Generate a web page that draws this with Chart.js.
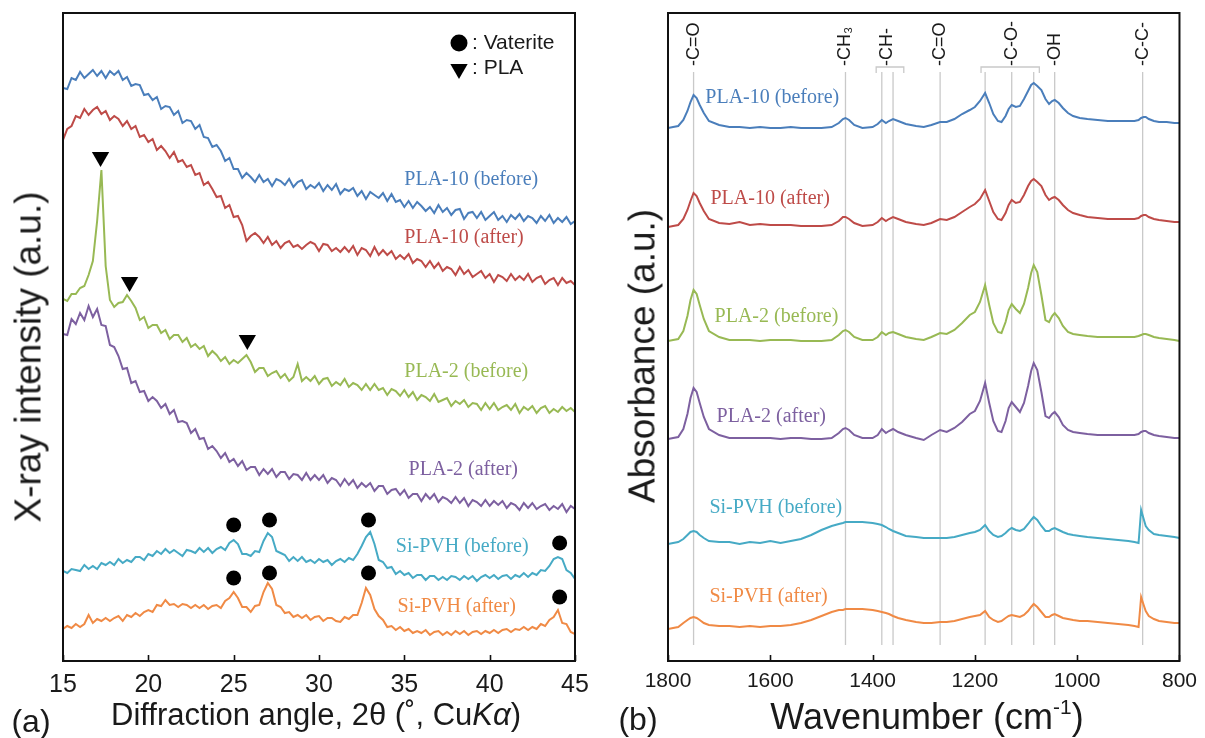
<!DOCTYPE html>
<html lang="en">
<head>
<meta charset="utf-8">
<title>XRD and FTIR of PLA / Si-PVH</title>
<script src="https://cdn.jsdelivr.net/npm/chart.js@4.4.1/dist/chart.umd.min.js"></script>
<style>
  html, body { margin: 0; padding: 0; background: #ffffff; }
  body { position: relative; width: 1205px; height: 738px; overflow: hidden;
         font-family: "Liberation Sans", Arial, sans-serif; color: #1a1a1a; }
  canvas { position: absolute; top: 0; }
  #xrd { left: 0; }
  #ftir { left: 600px; }
  .t { position: absolute; white-space: nowrap; transform: translate(-50%, -50%); line-height: 1; }
  .rot { transform: translate(-50%, -50%) rotate(-90deg); }
  sup { font-size: 58%; vertical-align: 0.75em; }
</style>
</head>
<body>
<canvas id="xrd" width="600" height="738"></canvas>
<canvas id="ftir" width="605" height="738"></canvas>

<div class="t rot" style="left:28px; top:357px; font-size:37px;">X-ray intensity (a.u.)</div>
<div class="t" style="left:316px; top:714px; font-size:31px;">Diffraction angle, 2θ (˚, Cu<i>Kα</i>)</div>
<div class="t" style="left:31px; top:721px; font-size:32px;">(a)</div>

<div class="t rot" style="left:642px; top:356px; font-size:37px;">Absorbance (a.u.)</div>
<div class="t" style="left:927px; top:716px; font-size:36px;">Wavenumber (cm<sup>-1</sup>)</div>
<div class="t" style="left:638px; top:719px; font-size:32px;">(b)</div>

<script>
// ---- (a) XRD: 2θ grid (deg) and intensity of each trace (a.u., stacked offsets as drawn)
const xrdAngles = [
  15,15.25,15.5,15.75,16,16.25,16.5,16.75,17,17.25,17.5,17.75,18,18.25,18.5,18.75,19,19.25,19.5,19.75,
  20,20.25,20.5,20.75,21,21.25,21.5,21.75,22,22.25,22.5,22.75,23,23.25,23.5,23.75,24,24.25,24.5,24.75,
  25,25.25,25.5,25.75,26,26.25,26.5,26.75,27,27.25,27.5,27.75,28,28.25,28.5,28.75,29,29.25,29.5,29.75,
  30,30.25,30.5,30.75,31,31.25,31.5,31.75,32,32.25,32.5,32.75,33,33.25,33.5,33.75,34,34.25,34.5,34.75,
  35,35.25,35.5,35.75,36,36.25,36.5,36.75,37,37.25,37.5,37.75,38,38.25,38.5,38.75,39,39.25,39.5,39.75,
  40,40.25,40.5,40.75,41,41.25,41.5,41.75,42,42.25,42.5,42.75,43,43.25,43.5,43.75,44,44.25,44.5,44.75,
  45
];
const xrdPla10Before = [
  573,572,583,581,589,583,587,591,585,590, 583,590,586,590,581,584,575,577,576,566,
  567,561,564,552,555,554,546,550,538,541, 540,532,536,524,523,514,516,510,500,503,
  492,492,483,488,484,479,486,479,482,475, 482,480,476,482,474,479,481,472,476,473,
  478,470,476,471,477,467,472,470,473,465, 470,462,469,466,463,468,460,467,459,461,
  454,460,453,459,455,450,454,448,456,449, 453,446,451,452,442,448,449,443,449,441,
  445,449,441,445,439,446,442,447,440,445, 443,438,445,440,446,438,443,439,444,437,
  440
];
const xrdPla10After = [
  521,532,535,545,543,552,546,551,554,547, 550,541,545,542,535,540,532,535,524,526,
  519,522,511,515,510,503,509,499,501,494, 496,486,488,476,479,472,464,465,453,456,
  444,445,436,420,425,428,424,418,424,416, 420,413,418,420,414,416,412,416,419,417,
  410,417,416,410,413,409,414,409,415,406, 413,411,405,414,406,411,406,410,402,406,
  402,407,398,402,400,394,400,393,398,390, 394,392,386,394,387,391,384,387,390,383,
  387,379,386,384,380,387,381,385,381,387, 379,383,385,377,381,383,376,383,378,380,
  376
];
const xrdPla2Before = [
  362,360,367,367,373,375,386,400,440,491, 395,361,354,358,359,366,360,353,341,344,
  333,336,336,328,331,322,326,326,319,323, 314,317,312,315,305,310,306,300,304,297,
  301,298,302,306,299,289,293,293,285,288, 290,283,287,280,284,297,280,284,280,285,
  277,282,283,275,279,276,282,274,278,276, 271,277,271,277,271,273,266,272,270,265,
  271,264,269,261,266,264,260,267,259,261, 263,255,260,257,261,254,258,257,251,258,
  252,258,251,254,256,251,257,248,254,251, 255,248,253,255,248,252,249,254,250,253,
  249
];
const xrdPla2After = [
  327,326,342,337,348,341,355,344,352,336, 335,316,314,305,292,293,278,280,269,270,
  260,264,260,253,257,247,251,239,240,238, 228,232,222,223,212,215,210,203,208,199,
  202,195,200,191,194,194,186,192,187,192, 184,189,189,182,187,186,181,188,181,186,
  181,186,178,183,181,175,182,176,181,173, 178,174,178,170,175,175,167,171,172,166,
  171,163,167,167,160,167,162,167,159,164, 162,158,164,158,163,155,161,159,155,161,
  155,160,156,160,153,158,156,151,158,153, 158,152,155,157,151,155,152,157,149,155,
  152
];
const xrdSiPvhBefore = [
  90,88,92,91,90,96,92,95,92,98, 96,99,96,102,98,101,99,104,104,101,
  107,105,110,107,112,108,111,108,105,111, 110,108,113,109,113,108,112,114,111,118,
  121,117,107,107,105,110,109,120,128,124, 110,108,106,100,104,100,104,99,101,98,
  102,99,101,96,100,102,99,103,101,107, 115,124,129,117,101,99,93,94,87,90,
  86,88,83,86,86,81,85,85,81,84, 81,85,84,81,85,82,85,80,84,86,
  83,86,82,85,86,82,86,84,88,84, 88,86,91,90,95,102,104,102,91,88,
  82
];
const xrdSiPvhAfter = [
  32,35,33,37,34,37,46,38,42,40, 43,40,43,45,40,46,44,48,45,49,
  51,49,56,55,61,56,57,54,57,56, 53,56,53,56,52,55,56,53,60,63,
  69,63,54,54,49,55,56,69,78,72, 56,54,48,49,44,46,43,46,41,44,
  45,40,43,43,40,39,44,42,46,46, 58,73,66,52,45,41,34,35,31,34,
  30,32,28,30,28,31,26,29,30,26, 29,26,30,27,30,26,29,30,27,30,
  28,31,28,31,32,29,32,31,34,31, 34,32,37,35,41,44,51,38,37,29,
  27
];
// Phase markers above the peaks
const vateriteAngles = [25.0, 27.1, 32.9, 44.1, 25.0, 27.1, 32.9, 44.1];
const vateriteLevels = [136, 141, 141, 118, 83, 88, 88, 64];
const plaAngles = [17.2, 18.9, 25.8];
const plaLevels = [504, 379, 321];

// ---- (b) FTIR: wavenumber grid (cm-1) and absorbance of each trace (a.u., stacked offsets)
const wavenumbers = [
  1800,1790,1780,1770,1762,1756,1750,1744,1738,1730, 1720,1700,1680,1660,1640,1620,1600,1580,1560,1540,
  1520,1500,1480,1466,1458,1453,1446,1436,1420,1400, 1390,1382,1374,1368,1360,1350,1335,1315,1300,1285,
  1268,1255,1240,1225,1210,1200,1190,1180,1172,1164, 1155,1148,1140,1134,1128,1120,1112,1104,1096,1090,
  1085,1078,1070,1062,1055,1049,1044,1036,1028,1018, 1008,995,980,960,940,920,900,888,880,875,
  870,866,860,850,840,825,810,800
];
const ftirPla10Before = [
  533,534,535,541,550,559,566,563,556,548, 540,536,534,534,533,534,533,533,534,533,
  533,533,534,538,542,543,541,536,533,534, 537,541,538,540,542,540,537,535,534,536,
  539,539,542,547,551,554,560,568,558,547, 540,539,545,552,556,554,555,562,570,576,
  578,575,571,562,557,560,561,558,553,548, 545,543,542,541,540,540,540,540,541,543,
  544,544,542,540,539,539,538,538
];
const ftirPla10After = [
  434,435,436,442,451,460,468,465,458,450, 442,438,437,439,436,437,436,436,436,435,
  435,435,436,440,444,444,442,438,435,436, 439,443,440,442,444,442,439,437,436,438,
  442,441,444,449,454,457,462,471,460,449, 442,441,448,456,461,458,459,466,475,480,
  482,479,475,466,461,463,464,461,456,451, 448,446,444,443,442,442,442,442,443,445,
  446,446,444,442,441,440,439,439
];
const ftirPla2Before = [
  320,321,322,330,345,361,371,367,356,342, 330,324,321,321,321,320,321,321,321,320,
  320,320,321,326,330,331,329,324,321,321, 324,329,326,328,329,327,324,322,321,324,
  328,327,331,338,346,349,359,376,356,338, 329,328,339,351,357,352,348,357,373,388,
  396,389,366,341,339,345,348,343,335,329, 327,326,325,324,324,324,324,324,325,326,
  327,327,326,324,323,322,321,320
];
const ftirPla2After = [
  222,223,224,232,247,263,273,269,258,244, 232,226,223,223,223,223,223,222,223,223,
  222,222,223,228,232,233,231,226,223,223, 226,232,228,230,232,229,226,223,221,226,
  231,229,233,239,247,250,260,278,258,240, 230,229,240,253,259,254,249,258,275,290,
  298,291,269,245,243,247,249,244,236,231, 229,228,227,226,226,226,226,226,227,229,
  230,230,228,226,225,224,223,223
];
const ftirSiPvhBefore = [
  117,118,119,122,126,129,130,129,126,123, 120,119,119,117,119,118,120,118,120,122,
  126,131,135,137,138,139,139,139,139,138, 137,136,134,132,130,128,125,124,123,123,
  123,123,124,126,128,129,131,136,130,126, 124,125,128,131,133,131,130,132,137,141,
  144,141,135,130,130,132,133,131,129,127, 126,125,124,123,122,121,120,119,118,151,
  142,135,131,127,126,125,124,123
];
const ftirSiPvhAfter = [
  32,33,34,38,41,43,44,43,41,38, 36,35,35,34,35,34,35,35,36,38,
  41,45,49,51,51,52,52,52,52,51, 50,49,48,47,45,43,41,39,38,38,
  39,39,40,42,44,45,46,50,44,41, 39,40,43,45,46,45,44,46,50,54,
  57,54,49,44,44,46,47,45,43,42, 41,40,40,39,38,37,36,35,34,64,
  56,50,45,42,40,39,38,38
];
// Assignment guide lines, their vertical span, and the two group brackets
const bandLines = [1750, 1453, 1382, 1360, 1268, 1180, 1128, 1085, 1044, 872];
const bandSpan = [16, 589];
const bracketCH = [1393, 1339];
const bracketCO = [1188, 1074];
const bracketLevels = [588, 594];
const groupLabels = ['-C=O', '-CH₃', '-CH-', '-C=O', '-C-O-', '-OH', '-C-C-'];
const groupLabelAt = [1750, 1453, 1371, 1268, 1128, 1044, 872];

const seriesNames = ['PLA-10 (before)', 'PLA-10 (after)', 'PLA-2 (before)', 'PLA-2 (after)', 'Si-PVH (before)', 'Si-PVH (after)'];
const seriesColors = ['#4a7ebb', '#be4b48', '#98b954', '#7d60a0', '#46aac5', '#f08a45'];

const SANS = '"Liberation Sans", Arial, sans-serif';
const SERIF = '"Liberation Serif", "Times New Roman", serif';
const PLOT_TOP = 13, PLOT_BOTTOM = 661, CANVAS_H = 738;
const LEVEL_MAX = PLOT_BOTTOM - PLOT_TOP;

// Where each series name sits: [x value, level] at the text's left-middle
const xrdLabelAt = [[35.0, 481], [35.0, 423], [35.0, 289], [35.25, 191], [34.5, 114], [34.6, 54]];
const ftirLabelAt = [[1727, 563], [1717, 462], [1709, 344], [1705, 244], [1719, 153], [1719, 64]];

const pts = (xs, ys) => xs.map((x, i) => ({ x, y: ys[i] }));

// Black box round the plot with short inward ticks at each labelled value.
const framePlugin = {
  id: 'frame',
  afterDraw(chart) {
    const { ctx, chartArea: a, scales: { x } } = chart;
    ctx.save();
    ctx.strokeStyle = '#111';
    ctx.lineWidth = 2;
    ctx.strokeRect(a.left, a.top, a.right - a.left, a.bottom - a.top);
    ctx.lineWidth = 1.6;
    for (const t of x.ticks) {
      const px = Math.round(x.getPixelForValue(t.value)) + 0.5;
      ctx.beginPath();
      ctx.moveTo(px, a.bottom);
      ctx.lineTo(px, a.bottom - 6);
      ctx.stroke();
    }
    ctx.restore();
  },
};

const seriesLabels = anchors => ({
  id: 'seriesLabels',
  afterDatasetsDraw(chart) {
    const { ctx, scales: { x, y } } = chart;
    ctx.save();
    ctx.font = '20px ' + SERIF;
    ctx.textAlign = 'left';
    ctx.textBaseline = 'middle';
    anchors.forEach(([vx, vy], i) => {
      ctx.fillStyle = seriesColors[i];
      ctx.fillText(seriesNames[i], x.getPixelForValue(vx), y.getPixelForValue(vy));
    });
    ctx.restore();
  },
});

// Phase key in the top-right corner of (a)
const phaseKey = {
  id: 'phaseKey',
  afterDraw(chart) {
    const { ctx, chartArea: a } = chart;
    const cx = a.right - 116;
    ctx.save();
    ctx.fillStyle = '#000';
    ctx.beginPath();
    ctx.arc(cx, a.top + 30, 8.5, 0, Math.PI * 2);
    ctx.fill();
    const ty = a.top + 56, r = 10;
    ctx.beginPath();
    ctx.moveTo(cx - r * 0.866, ty - r * 0.5);
    ctx.lineTo(cx + r * 0.866, ty - r * 0.5);
    ctx.lineTo(cx, ty + r);
    ctx.closePath();
    ctx.fill();
    ctx.fillStyle = '#1a1a1a';
    ctx.font = '21px ' + SANS;
    ctx.textBaseline = 'middle';
    ctx.fillText(': Vaterite', cx + 13, a.top + 30);
    ctx.fillText(': PLA', cx + 13, a.top + 55);
    ctx.restore();
  },
};

// Rotated functional-group names above the guide lines in (b)
const groupNames = {
  id: 'groupNames',
  afterDraw(chart) {
    const { ctx, scales: { x, y } } = chart;
    const base = y.getPixelForValue(595);
    ctx.save();
    ctx.fillStyle = '#1a1a1a';
    ctx.font = '18px ' + SANS + ', "DejaVu Sans"';
    ctx.textAlign = 'left';
    ctx.textBaseline = 'middle';
    groupLabels.forEach((txt, i) => {
      ctx.save();
      ctx.translate(x.getPixelForValue(groupLabelAt[i]), base);
      ctx.rotate(-Math.PI / 2);
      ctx.fillText(txt, 0, 0);
      ctx.restore();
    });
    ctx.restore();
  },
};

const traceStyle = color => ({
  borderColor: color, backgroundColor: color, borderWidth: 2,
  pointRadius: 0, tension: 0, fill: false, order: 1,
});

const bottomAxis = (extra, fontSize, pad) => ({
  type: 'linear',
  ...extra,
  grid: { display: false, drawTicks: false },
  border: { display: false },
  ticks: {
    color: '#1a1a1a', font: { family: SANS, size: fontSize }, padding: pad, maxRotation: 0,
    callback: v => String(v), ...(extra.ticks || {}),
  },
  afterFit: s => { s.height = CANVAS_H - PLOT_BOTTOM; },
});

const hiddenLevel = { type: 'linear', display: false, min: 0, max: LEVEL_MAX };

const xrdTraces = [xrdPla10Before, xrdPla10After, xrdPla2Before, xrdPla2After, xrdSiPvhBefore, xrdSiPvhAfter];
new Chart(document.getElementById('xrd'), {
  type: 'line',
  data: {
    datasets: [
      {
        type: 'scatter', label: 'Vaterite', data: pts(vateriteAngles, vateriteLevels),
        pointStyle: 'circle', pointRadius: 7.5, backgroundColor: '#000', borderColor: '#000', borderWidth: 0, order: 0,
      },
      {
        type: 'scatter', label: 'PLA', data: pts(plaAngles, plaLevels),
        pointStyle: 'triangle', rotation: 180, pointRadius: 10, backgroundColor: '#000', borderColor: '#000', borderWidth: 0, order: 0,
      },
      ...xrdTraces.map((ys, i) => ({ label: seriesNames[i], data: pts(xrdAngles, ys), ...traceStyle(seriesColors[i]) })),
    ],
  },
  options: {
    responsive: false, animation: false, events: [],
    layout: { padding: { left: 63, right: 25, top: PLOT_TOP, bottom: 0 } },
    plugins: { legend: { display: false }, tooltip: { enabled: false } },
    scales: {
      x: bottomAxis({ min: 15, max: 45, ticks: { stepSize: 5 } }, 25, 9),
      y: hiddenLevel,
    },
  },
  plugins: [framePlugin, seriesLabels(xrdLabelAt), phaseKey],
});

const guide = { borderColor: '#c9c9c9', borderWidth: 1.3, pointRadius: 0, fill: false, order: 2 };
const ftirTraces = [ftirPla10Before, ftirPla10After, ftirPla2Before, ftirPla2After, ftirSiPvhBefore, ftirSiPvhAfter];
const bracket = ([hi, lo]) => pts([hi, hi, lo, lo], [bracketLevels[0], bracketLevels[1], bracketLevels[1], bracketLevels[0]]);
new Chart(document.getElementById('ftir'), {
  type: 'line',
  data: {
    datasets: [
      ...bandLines.map(w => ({ label: 'band ' + w, data: pts([w, w], bandSpan), ...guide })),
      { label: 'CH bracket', data: bracket(bracketCH), ...guide },
      { label: 'C-O bracket', data: bracket(bracketCO), ...guide },
      ...ftirTraces.map((ys, i) => ({ label: seriesNames[i], data: pts(wavenumbers, ys), ...traceStyle(seriesColors[i]) })),
    ],
  },
  options: {
    responsive: false, animation: false, events: [],
    layout: { padding: { left: 68, right: 19, top: PLOT_TOP, bottom: 0 } },
    plugins: { legend: { display: false }, tooltip: { enabled: false } },
    scales: {
      x: bottomAxis({ min: 800, max: 1800, reverse: true, ticks: { stepSize: 200 } }, 21, 8),
      y: hiddenLevel,
    },
  },
  plugins: [framePlugin, seriesLabels(ftirLabelAt), groupNames],
});
</script>
</body>
</html>
